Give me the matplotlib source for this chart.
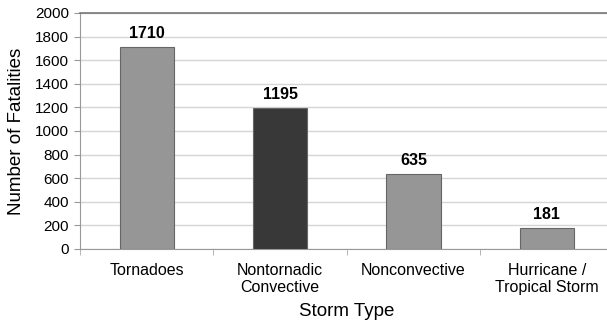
import matplotlib
matplotlib.use('Agg')
import numpy as np
import matplotlib.pyplot as plt

categories = ['Tornadoes', 'Nontornadic\nConvective', 'Nonconvective', 'Hurricane /\nTropical Storm']
fatalities = [1710, 1195, 635, 181]
bar_colors = ['#969696', '#383838', '#969696', '#969696']
yticks = [0, 200, 400, 600, 800, 1000, 1200, 1400, 1600, 1800, 2000]

plt.rcParams['font.family'] = ['Liberation Sans', 'DejaVu Sans']

fig = plt.figure(figsize=(6.07, 3.25), dpi=100)
ax = fig.add_axes([80/607., 76/325., 533.6/607., 236/325.])

x = np.arange(len(categories))
ax.bar(x, fatalities, width=0.405, color=bar_colors, edgecolor='#666666', linewidth=0.8, zorder=3)
for xi, v in zip(x, fatalities):
	ax.text(xi, v + 50, str(v), ha='center', va='bottom', fontsize=11.5, fontweight='bold', zorder=4)

ax.set_xlim(-0.5, len(categories) - 0.5)
ax.set_ylim(0, 2000)
ax.set_yticks(yticks)
ax.yaxis.grid(True, color='#d6d6d6', linewidth=1.0, zorder=0)
ax.set_xticks(x)
ax.set_xticklabels(categories, fontsize=11.5, linespacing=1.15)
ax.set_xticks(np.arange(len(categories) + 1) - 0.5, minor=True)
ax.tick_params(axis='x', which='major', length=0, pad=10)
ax.tick_params(axis='x', which='minor', length=4, color='#aaaaaa')
ax.tick_params(axis='y', labelsize=11, length=4, color='#999999', pad=4)

ax.spines['right'].set_visible(False)
ax.spines['top'].set_color('#777777')
ax.spines['top'].set_linewidth(1.2)
ax.spines['left'].set_color('#999999')
ax.spines['bottom'].set_color('#999999')

ax.set_ylabel('Number of Fatalities', fontsize=13.5)
ax.yaxis.set_label_coords(-55/533.6, 0.5)
ax.set_xlabel('Storm Type', fontsize=13.5)
ax.xaxis.set_label_coords(0.5, -54/236.)

fig.savefig('out.png', dpi=100)
